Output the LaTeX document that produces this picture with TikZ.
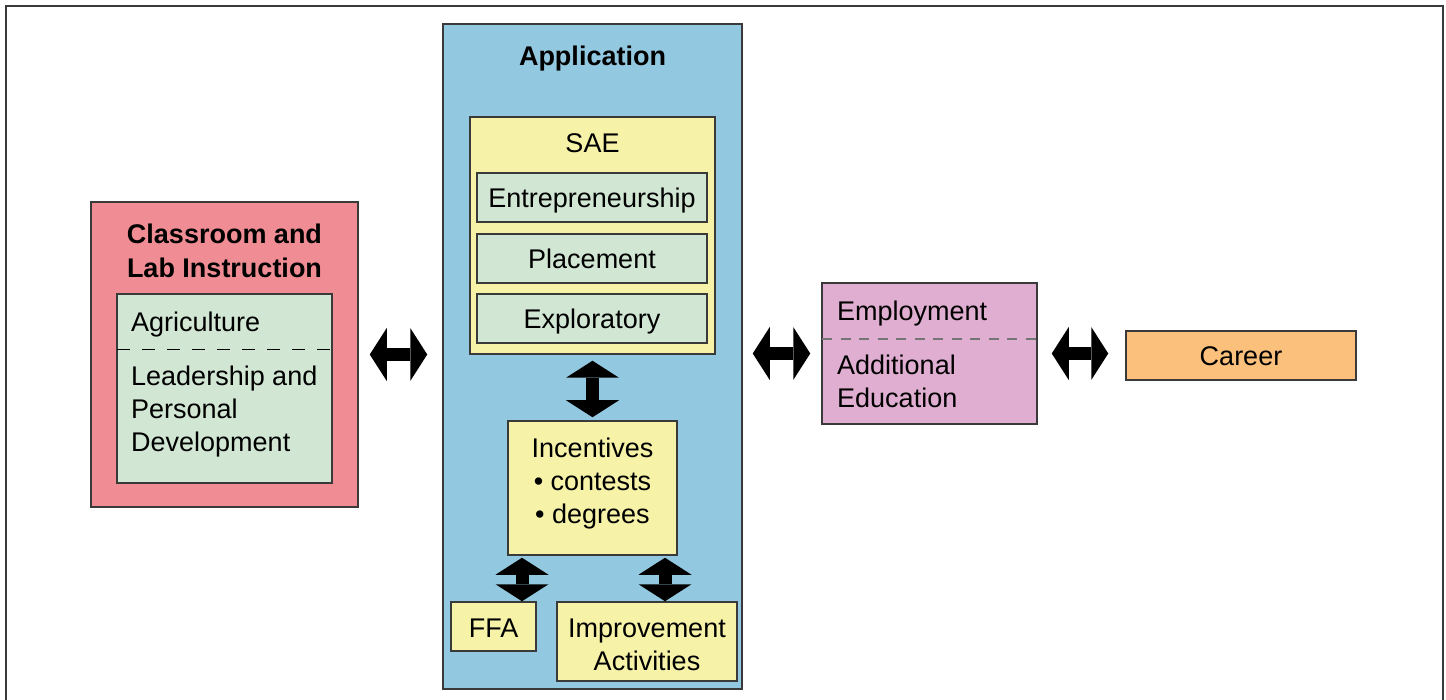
\documentclass[tikz,border=0pt]{standalone}
\usepackage{fontspec}
\setmainfont{Liberation Sans}
\usetikzlibrary{arrows.meta, positioning, calc}
\definecolor{rim}{HTML}{3A3A3A}
\definecolor{pinkbox}{HTML}{F08D94}
\definecolor{greenbox}{HTML}{D1E7D4}
\definecolor{bluebox}{HTML}{93C9E0}
\definecolor{yellowbox}{HTML}{F6F3A8}
\definecolor{lilacbox}{HTML}{DFAED0}
\definecolor{orangebox}{HTML}{FBC07C}

\begin{document}
\begin{tikzpicture}[
        x = 1pt, y = -1pt,
        font = \fontsize{27}{33}\selectfont,
  box/.style = {draw=rim, line width=1.5pt, inner sep=0pt, align=center},
entry/.style = {box, text height=21pt, text depth=0pt},
  txt/.style = {inner sep=0pt},
title/.style = {txt, font=\fontsize{27}{34}\selectfont\bfseries},
 link/.style = {line width=13pt,
                {Triangle[width=53pt,length=17pt,line width=0pt]}-{Triangle[width=53pt,length=17pt,line width=0pt]}}
                    ]
\useasboundingbox (0,0) rectangle (1446,700);
% frame
\draw[rim, line width=2pt] (6,720) -- (6,6) -- (1443,6) -- (1443,720);
% classroom
\node[box, fill=pinkbox, minimum width=267pt, minimum height=305pt] (class) at (224.5,354.5) {};
\node[title, align=center] (classtitle) at (224.5,250.5) {Classroom and\\Lab Instruction};
\node[box, fill=greenbox, minimum width=215pt, minimum height=189pt] (core) at (224.5,388.5) {};
\draw[black, line width=1.3pt, dash pattern=on 13pt off 12pt] (117,349.5) -- (332,349.5);
\node[txt, anchor=base west] (agri) at (131,332) {Agriculture};
\node[txt, anchor=west, align=left] (lead) at (131,412) {Leadership and\\Personal\\Development};
% application
\node[box, fill=bluebox, minimum width=299pt, minimum height=665pt] (app) at (592.5,356.5) {};
\node[title, anchor=base] (apptitle) at (592.5,66) {Application};
\node[box, fill=yellowbox, minimum width=245pt, minimum height=237pt] (sae) at (592.5,235.5) {};
\node[txt, anchor=base] (saetitle) at (592.5,153) {SAE};
\node[entry, fill=greenbox, minimum width=230pt, minimum height=49pt] (entre) at (592,197.5) {Entrepreneurship};
\node[entry, fill=greenbox, minimum width=230pt, minimum height=49pt] (place) at (592,258.5) {Placement};
\node[entry, fill=greenbox, minimum width=230pt, minimum height=49pt] (explo) at (592,318.5) {Exploratory};
\node[box, fill=yellowbox, minimum width=169pt, minimum height=134pt] (incent) at (592.5,488) {};
\node[txt, align=center] (incenttext) at (592.5,484) {Incentives\\\textbullet{} contests\\\textbullet{} degrees};
\node[entry, fill=yellowbox, minimum width=85pt, minimum height=49pt] (ffa) at (493.5,626.5) {FFA};
\node[box, fill=yellowbox, minimum width=180pt, minimum height=79pt] (impr) at (647,641.5) {};
\node[txt, align=center] (imprtext) at (647,644.5) {Improvement\\Activities};
% next steps
\node[box, fill=lilacbox, minimum width=215pt, minimum height=141pt] (job) at (929.5,353.5) {};
\draw[rim!70, line width=2pt, dash pattern=on 10pt off 8.5pt] (822,339.5) -- (1037,339.5);
\node[txt, anchor=base west] (jobtext) at (837,321) {Employment};
\node[txt, anchor=west, align=left] (edutext) at (837,381) {Additional\\Education};
\node[entry, fill=orangebox, minimum width=230pt, minimum height=49pt] (career) at (1241,355.5) {Career};
% links
\draw[link, shorten <=11pt, shorten >=15pt] (class.east) -- (class.east -| app.west);
\draw[link, shorten <=10pt, shorten >=11pt] (app.east |- job.west) -- (job.west);
\draw[link, shorten <=14pt, shorten >=17pt] (job.east) -- (job.east -| career.west);
\draw[link, shorten <=6pt, shorten >=3pt] (sae.south) -- (incent.north);
\draw[link, shorten <=2pt] ([xshift=28.5pt]ffa.north |- incent.south) -- ([xshift=28.5pt]ffa.north);
\draw[link, shorten <=2pt] ([xshift=18pt]impr.north |- incent.south) -- ([xshift=18pt]impr.north);
\end{tikzpicture}
\end{document}
